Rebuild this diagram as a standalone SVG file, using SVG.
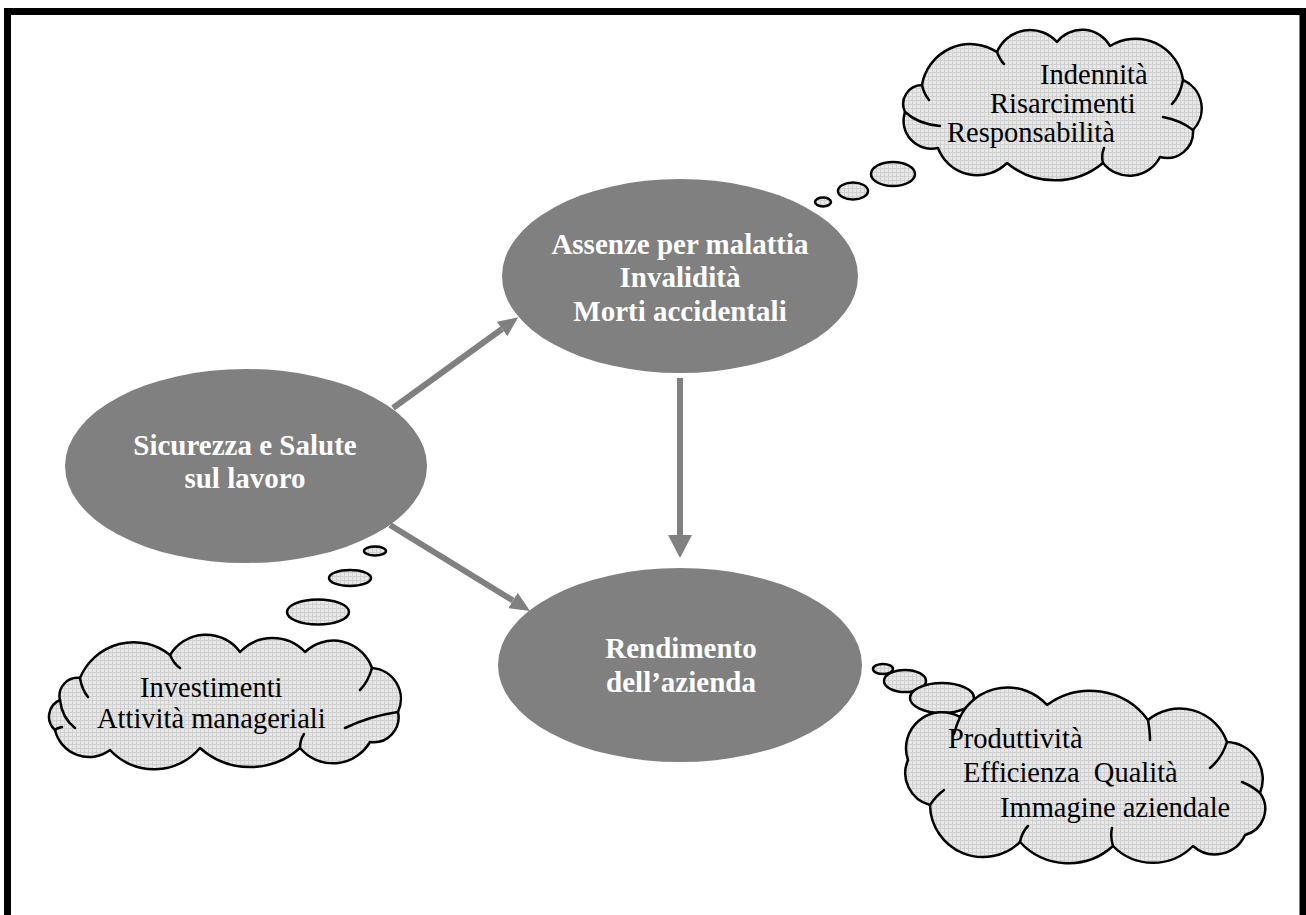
<svg xmlns="http://www.w3.org/2000/svg" width="1306" height="915" viewBox="0 0 1306 915">
<defs>
<pattern id="grid" width="4" height="4" patternUnits="userSpaceOnUse">
<rect width="4" height="4" fill="#e8e8e8"/>
<path d="M0,0.5H4M0.5,0V4" stroke="#d0d0d0" stroke-width="1"/>
</pattern>
<marker id="ah" viewBox="0 0 20 18" refX="0" refY="9" markerWidth="20" markerHeight="18" markerUnits="userSpaceOnUse" orient="auto">
<path d="M0,0 L20,9 L0,18 Z" fill="#808080"/>
</marker>
<marker id="ahv" viewBox="0 0 23 24" refX="0" refY="12" markerWidth="23" markerHeight="24" markerUnits="userSpaceOnUse" orient="auto">
<path d="M0,0 L23,12 L0,24 Z" fill="#808080"/>
</marker>
</defs>
<style>
.node{fill:#808080}
.nt{font-family:"Liberation Serif","Times New Roman",serif;font-weight:bold;font-size:29px;fill:#ffffff;text-anchor:middle}
.cloud{fill:url(#grid);stroke:#000;stroke-width:2.5;stroke-linejoin:round}
.inner{fill:none;stroke:#000;stroke-width:2.5;stroke-linecap:round}
.ct{font-family:"Liberation Serif","Times New Roman",serif;font-size:28.5px;fill:#000}
.conn{stroke:#808080;stroke-width:6;fill:none}
</style>
<rect x="7.5" y="11.5" width="1295.5" height="960" fill="none" stroke="#000" stroke-width="7"/>

<g id="connectors">
<line class="conn" x1="393" y1="408" x2="502" y2="329" marker-end="url(#ah)"/>
<line class="conn" x1="390" y1="525" x2="513" y2="600.5" marker-end="url(#ah)"/>
<line class="conn" x1="680" y1="378" x2="680" y2="535" stroke-width="7" marker-end="url(#ahv)"/>
</g>

<g id="node-sicurezza">
<ellipse class="node" cx="246" cy="466" rx="181" ry="97"/>
<text class="nt" x="245" y="455">Sicurezza e Salute</text>
<text class="nt" x="245" y="488">sul lavoro</text>
</g>

<g id="node-assenze">
<ellipse class="node" cx="680" cy="276" rx="178" ry="97"/>
<text class="nt" x="680" y="254">Assenze per malattia</text>
<text class="nt" x="680" y="287">Invalidità</text>
<text class="nt" x="680" y="321">Morti accidentali</text>
</g>

<g id="node-rendimento">
<ellipse class="node" cx="680" cy="665" rx="182" ry="97"/>
<text class="nt" x="681" y="658">Rendimento</text>
<text class="nt" x="681" y="692">dell’azienda</text>
</g>

<g id="cloud-indennita">
<ellipse class="cloud" cx="823" cy="202" rx="8" ry="4.5"/>
<ellipse class="cloud" cx="853" cy="191" rx="15" ry="8.5"/>
<ellipse class="cloud" cx="893" cy="174" rx="22" ry="12"/>
<path class="cloud" d="M922,85 A49,49 0 0 1 997,52 A36,36 0 0 1 1057,42 A32,32 0 0 1 1110,46 A48,48 0 0 1 1183,80 A31,31 0 0 1 1193,130 A26,26 0 0 1 1160,157 A34,34 0 0 1 1103,163 A75,75 0 0 1 1007,163 A42,42 0 0 1 938,148 A28,28 0 0 1 905,112 A19,19 0 0 1 922,85 Z"/>
<path class="inner" d="M922,85 Q924,94 929,100 M997,52 Q1000,60 1004,64 M1183,80 Q1180,96 1172,104 M1193,130 Q1180,120 1163,117 M1103,163 Q1101,155 1104,148 M905,112 Q918,124 940,126"/>
<text class="ct" x="1040" y="84">Indennità</text>
<text class="ct" x="990" y="113">Risarcimenti</text>
<text class="ct" x="947" y="142">Responsabilità</text>
</g>

<g id="cloud-investimenti">
<ellipse class="cloud" cx="375" cy="551" rx="11" ry="4.5"/>
<ellipse class="cloud" cx="350" cy="578" rx="21" ry="8"/>
<ellipse class="cloud" cx="318" cy="612" rx="31" ry="12.5"/>
<path class="cloud" d="M80,678 A58,58 0 0 1 170,655 A42,42 0 0 1 240,652 A45,45 0 0 1 305,652 A41,41 0 0 1 372,668 A31,31 0 0 1 398,712 A25,25 0 0 1 370,742 A43,43 0 0 1 300,748 A75,75 0 0 1 200,748 A60,60 0 0 1 110,750 A35,35 0 0 1 55,730 A18,18 0 0 1 60,700 A18,18 0 0 1 80,678 Z"/>
<path class="inner" d="M80,678 Q82,690 88,697 M170,655 Q174,664 180,668 M372,668 Q368,682 360,690 M398,712 Q370,716 345,728 M300,748 Q300,740 304,734 M60,700 Q62,718 75,728 M55,730 Q57,728 62,727"/>
<text class="ct" x="140" y="697">Investimenti</text>
<text class="ct" x="97" y="728">Attività manageriali</text>
</g>

<g id="cloud-produttivita">
<ellipse class="cloud" cx="883" cy="669" rx="10" ry="5"/>
<ellipse class="cloud" cx="905" cy="681" rx="21" ry="11"/>
<ellipse class="cloud" cx="942" cy="698" rx="32" ry="15"/>
<path class="cloud" d="M908,760 A36,36 0 0 1 960,717 A53,53 0 0 1 1047,705 A72,72 0 0 1 1148,720 A50,50 0 0 1 1227,742 A37,37 0 0 1 1260,793 A27,27 0 0 1 1245,835 A33,33 0 0 1 1193,846 A56,56 0 0 1 1113,846 A66,66 0 0 1 1020,842 A53,53 0 0 1 930,805 A33,33 0 0 1 908,760 Z"/>
<path class="inner" d="M960,717 Q956,726 954,734 M1148,720 Q1150,732 1150,740 M1227,742 Q1222,758 1210,768 M1260,793 Q1252,786 1242,782 M1113,846 Q1110,836 1112,828 M1020,842 Q1022,832 1028,826 M930,805 Q936,796 944,790"/>
<text class="ct" x="948" y="748">Produttività</text>
<text class="ct" x="963" y="782" style="white-space:pre">Efficienza  Qualità</text>
<text class="ct" x="1000" y="817">Immagine aziendale</text>
</g>
</svg>
